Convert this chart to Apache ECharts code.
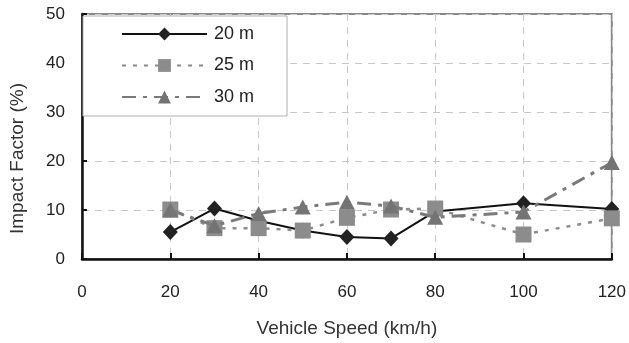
<!DOCTYPE html>
<html><head><meta charset="utf-8">
<script src="https://cdn.jsdelivr.net/npm/echarts@6/dist/echarts.min.js"></script>
<style>html,body{margin:0;padding:0;background:#fff}#c{width:629px;height:343px}</style>
</head><body><div id="c"></div>
<script>
const speeds = [20, 30, 40, 50, 60, 70, 80, 100, 120];
const s20 = [5.5, 10.3, 7.8, 5.8, 4.5, 4.2, 9.7, 11.4, 10.2];
const s25 = [10.1, 6.3, 6.3, 5.8, 8.4, 10.1, 10.3, 5.0, 8.3];
const s30 = [10.0, 6.8, 9.3, 10.6, 11.6, 10.8, 8.5, 9.6, 19.7];
const seriesNames = ['20 m', '25 m', '30 m'];
const pair = arr => speeds.map((x, i) => [x, arr[i]]);
const font = 'Liberation Sans, Arial, sans-serif';
const chart = echarts.init(document.getElementById('c'));
chart.setOption({
  animation: false,
  grid: { left: 80, right: 17, top: 14, bottom: 80, show: true, borderColor: '#8a8a8a', borderWidth: 2 },
  legend: {
    orient: 'vertical', left: 83, top: 16,
    backgroundColor: '#fff', borderColor: '#b0b0b0', borderWidth: 1,
    padding: [9, 33, 10, 38], itemWidth: 85, itemHeight: 16, itemGap: 13.5,
    textStyle: { fontFamily: font, fontSize: 18, color: '#222', padding: [0, 0, 0, 2] },
    data: seriesNames
  },
  xAxis: {
    type: 'value', min: 0, max: 120, interval: 20,
    name: 'Vehicle Speed (km/h)', nameLocation: 'middle', nameGap: 60,
    nameTextStyle: { fontFamily: font, fontSize: 19, color: '#333' },
    axisLine: { lineStyle: { color: '#111', width: 2.5 } },
    axisTick: { inside: true, length: 6, lineStyle: { color: '#111', width: 2 } },
    axisLabel: { margin: 25, fontFamily: font, fontSize: 17, color: '#222' },
    splitLine: { show: true, lineStyle: { color: '#c8c8c8', type: [7, 6], width: 1 } }
  },
  yAxis: {
    type: 'value', min: 0, max: 50, interval: 10,
    name: 'Impact Factor (%)', nameLocation: 'middle', nameGap: 55,
    nameTextStyle: { fontFamily: font, fontSize: 19, color: '#333', padding: [0, 44, 0, 0] },
    axisLine: { show: true, lineStyle: { color: '#111', width: 2.5 } },
    axisTick: { show: true, inside: true, length: 5, lineStyle: { color: '#111', width: 2 } },
    axisLabel: { margin: 17, fontFamily: font, fontSize: 17, color: '#222' },
    splitLine: { show: true, lineStyle: { color: '#c8c8c8', type: [7, 6], width: 1 } }
  },
  series: [
    { name: seriesNames[0], type: 'line', data: pair(s20), symbol: 'diamond', symbolSize: [15, 16],
      itemStyle: { color: '#222' }, lineStyle: { color: '#111', width: 2 }, z: 2 },
    { name: seriesNames[1], type: 'line', data: pair(s25), symbol: 'rect', symbolSize: 16,
      itemStyle: { color: '#8c8c8c' }, lineStyle: { color: '#8c8c8c', width: 2.5, type: [4, 7] }, z: 3 },
    { name: seriesNames[2], type: 'line', data: pair(s30), symbol: 'triangle', symbolSize: [16, 15],
      itemStyle: { color: '#747474' }, lineStyle: { color: '#7a7a7a', width: 3, type: [14, 7, 4, 7] }, z: 4 }
  ]
});
</script></body></html>
